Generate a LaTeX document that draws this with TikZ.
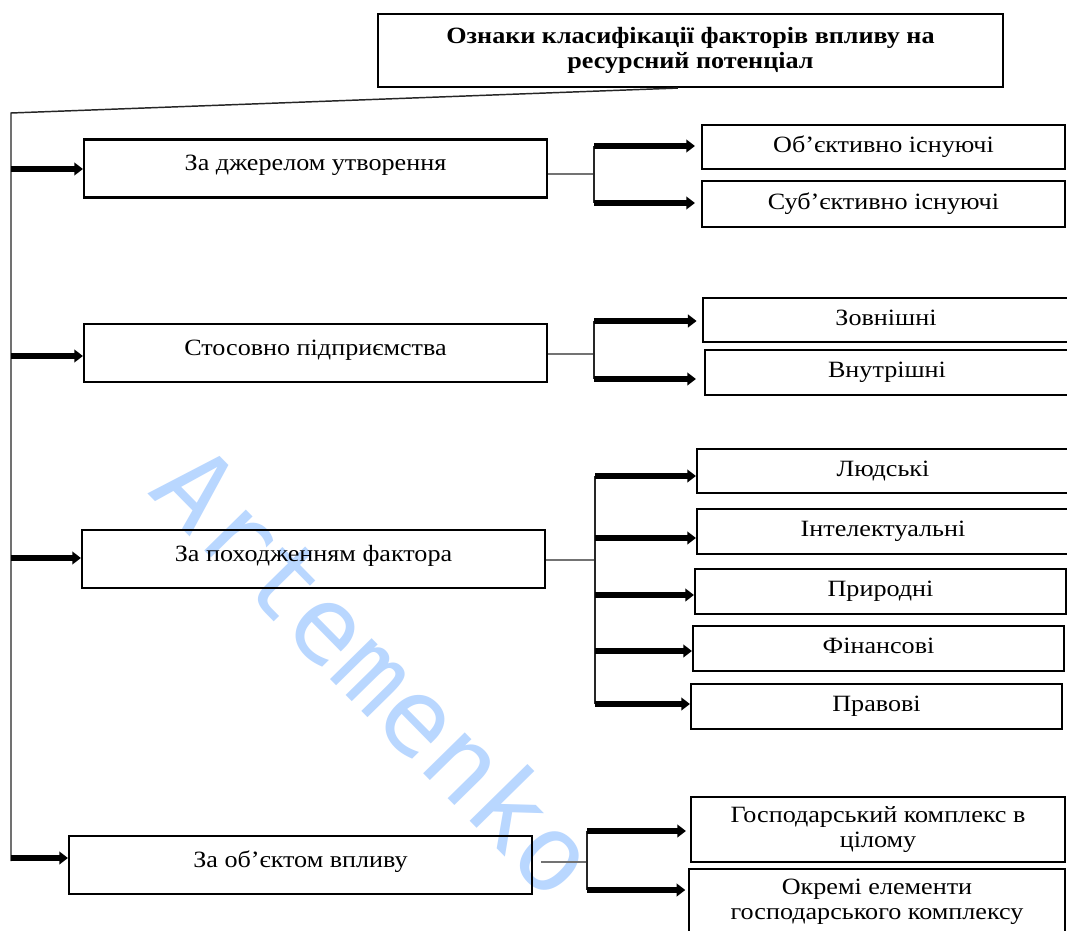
\documentclass[tikz,border=0pt]{standalone}
\usepackage{fontspec}
\setmainfont[FakeStretch=1.12]{Liberation Serif}
\newfontfamily\wmfont{DejaVu Sans Mono}
\usetikzlibrary{arrows.meta,calc}
\definecolor{wmblue}{RGB}{185,215,255}
\def\P{0.75pt}
\begin{document}
\begin{tikzpicture}[x=0.75pt,y=-0.75pt,
  bx/.style={draw=black,line width=1.6pt,inner sep=0pt,align=center,
    font=\fontsize{17.5}{19}\selectfont},
  parent/.style={bx,text height=9.5pt,text depth=6.5pt,minimum width=463*\P,minimum height=58*\P},
  child/.style={bx,text height=11.5pt,text depth=4pt,minimum height=45*\P},
  trunk/.style={line width=1.1pt,black!85},
  conn/.style={line width=0.8pt,black!55},
  branch/.style={line width=1pt,black!85},
  arr/.style={line width=3.9pt,-{Triangle[length=6.5pt,width=9.5pt]}},
  wm/.style={text=wmblue,font=\wmfont\fontsize{80}{88}\selectfont,inner sep=0pt}
]
\useasboundingbox[fill=white] (0,0) rectangle (1067,931);

% watermark
\node[wm,anchor=base west,rotate=-45.5] (wmark) at (146,492) {Artemenko};

% title
\node[bx,minimum width=625*\P,minimum height=73*\P,font=\fontsize{17.5}{19}\selectfont\bfseries] (title) at (690.5,50.5)
  {Ознаки класифікації факторів впливу на\\ресурсний потенціал};

% parents
\node[parent] (p1) at (315.5,168.5) {За джерелом утворення};
\node[parent] (p2) at (315.5,353) {Стосовно підприємства};
\node[parent] (p3) at (313.5,559) {За походженням фактора};
\node[parent] (p4) at (300.5,865) {За об’єктом впливу};

% children
\node[child,minimum width=363*\P,minimum height=44*\P] (c11) at (883.5,147) {Об’єктивно існуючі};
\node[child,minimum width=363*\P,minimum height=46*\P] (c12) at (883.5,204) {Суб’єктивно існуючі};
\node[child,minimum width=366*\P,minimum height=44*\P] (c21) at (886,320) {Зовнішні};
\node[child,minimum width=364*\P] (c22) at (887,372.5) {Внутрішні};
\node[child,minimum width=372*\P,minimum height=44*\P] (c31) at (883,471) {Людські};
\node[child,minimum width=372*\P] (c32) at (883,531.5) {Інтелектуальні};
\node[child,minimum width=371*\P] (c33) at (880.5,591.5) {Природні};
\node[child,minimum width=371*\P] (c34) at (878.5,648.5) {Фінансові};
\node[child,minimum width=371*\P] (c35) at (876.5,706.5) {Правові};
\node[bx,minimum width=374*\P,minimum height=65*\P] (c41) at (878,829.5) {Господарський комплекс в\\цілому};
\node[bx,minimum width=376*\P,minimum height=66*\P] (c42) at (877,902) {Окремі елементи\\господарського комплексу};

% trunk
\coordinate (L) at (11,113);
\coordinate (Lb) at (11,861);
\draw[trunk] ($(title.south west)!0.48!(title.south east)$) -- (L) -- (Lb);

% arrows from trunk to parents
\coordinate (a1) at ($(p1.west)+(0,0.5)$);
\coordinate (a2) at ($(p2.west)+(0,3)$);
\coordinate (a3) at ($(p3.west)+(0,-1)$);
\coordinate (a4) at ($(p4.west)+(0,-7)$);
\foreach \a in {a1,a2,a3,a4} \draw[arr] (\a -| L) -- (\a);

% row 1
\coordinate (b1) at (594,0);
\coordinate (e1) at ($(p1.east)+(0,5.5)$);
\coordinate (t11) at ($(c11.west)+(0,-1)$);
\coordinate (t12) at ($(c12.west)+(0,-1)$);
\draw[conn] (e1) -- (e1 -| b1);
\draw[branch] (t11 -| b1) -- (t12 -| b1);
\draw[arr,shorten >=4.5pt] (t11 -| b1) -- (t11);
\draw[arr,shorten >=4.5pt] (t12 -| b1) -- (t12);

% row 2
\coordinate (b2) at (594,0);
\coordinate (e2) at ($(p2.east)+(0,1)$);
\coordinate (t21) at ($(c21.west)+(0,1)$);
\coordinate (t22) at ($(c22.west)+(0,6.5)$);
\draw[conn] (e2) -- (e2 -| b2);
\draw[branch] (t21 -| b2) -- (t22 -| b2);
\draw[arr,shorten >=4pt] (t21 -| b2) -- (t21);
\draw[arr,shorten >=6pt] (t22 -| b2) -- (t22);

% row 3
\coordinate (b3) at (595,0);
\coordinate (e3) at ($(p3.east)+(0,1)$);
\coordinate (t31) at ($(c31.west)+(0,5)$);
\coordinate (t32) at ($(c32.west)+(0,6.5)$);
\coordinate (t33) at ($(c33.west)+(0,3.5)$);
\coordinate (t34) at ($(c34.west)+(0,2.5)$);
\coordinate (t35) at ($(c35.west)+(0,-2.5)$);
\draw[conn] (e3) -- (e3 -| b3);
\draw[branch] (t31 -| b3) -- (t35 -| b3);
\foreach \t in {t31,t32,t33,t34,t35} \draw[arr] (\t -| b3) -- (\t);

% row 4
\coordinate (b4) at (587,0);
\coordinate (e4) at ($(p4.east)+(8,-3)$);
\coordinate (t41) at ($(c41.west)+(0,1.5)$);
\coordinate (t42) at ($(c42.west)+(0,-12)$);
\draw[conn] (e4) -- (e4 -| b4);
\draw[branch] (t41 -| b4) -- (t42 -| b4);
\draw[arr,shorten >=3pt] (t41 -| b4) -- (t41);
\draw[arr,shorten >=2pt] (t42 -| b4) -- (t42);
\end{tikzpicture}
\end{document}
